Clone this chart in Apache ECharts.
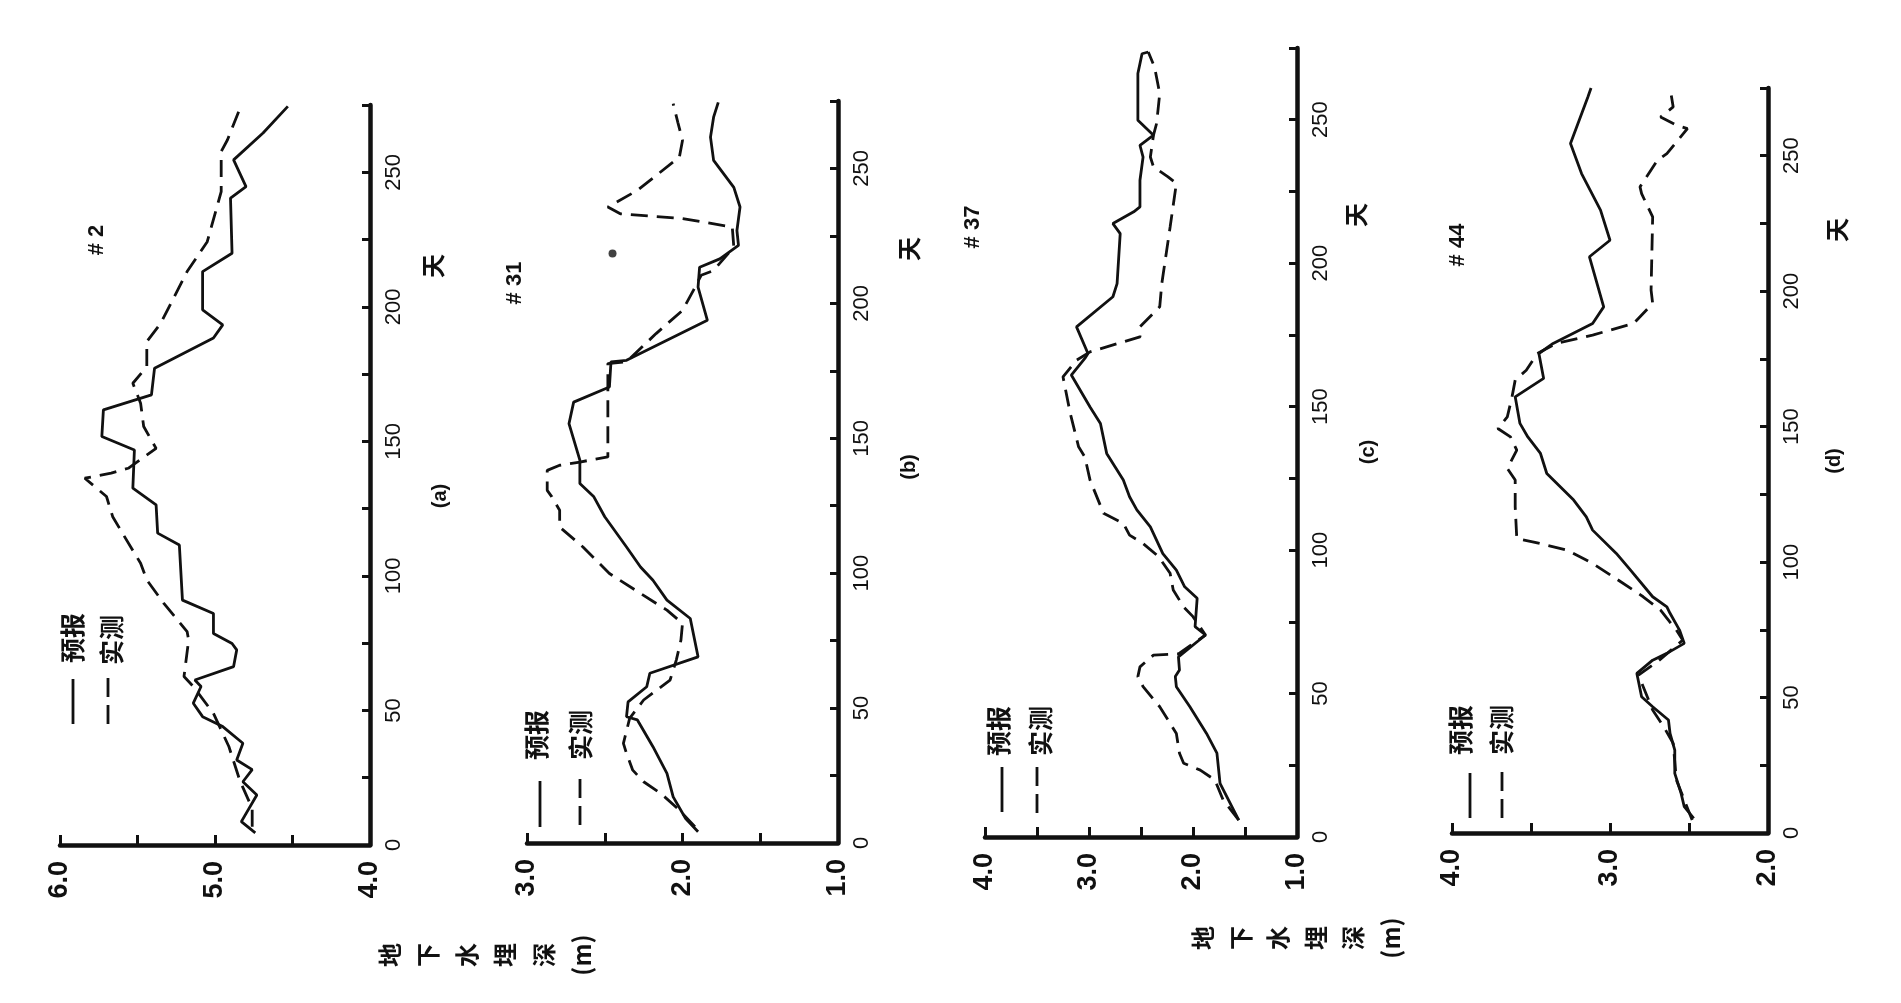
<!DOCTYPE html>
<html>
<head>
<meta charset="utf-8">
<title>地下水埋深 预报与实测</title>
<script src="https://cdn.jsdelivr.net/npm/echarts@6/dist/echarts.min.js"></script>
<style>
  html, body { margin: 0; padding: 0; background: #ffffff; }
  #chart { width: 1901px; height: 1003px; }
</style>
</head>
<body>
<div id="chart"></div>
<script>
// ---- Well #2 (a): groundwater depth (m) against day ----
const well2PredDay   = [4.5, 8.7, 18.6, 23.5, 28, 31.6, 37.8, 44, 47.7, 52.7, 58.9, 61.3, 66.3, 72.5, 74.9, 78.6, 86, 91, 111.5, 115.9, 126.4, 132.6, 146.8, 151.8, 161.7, 167.3, 177.2, 188.4, 193.3, 198.9, 213.1, 219.9, 240.4, 244.7, 254.6, 264.6, 274.5];
const well2PredDepth = [4.74, 4.83, 4.73, 4.82, 4.76, 4.86, 4.82, 4.95, 5.08, 5.14, 5.09, 5.13, 4.88, 4.86, 4.89, 5.01, 5.01, 5.21, 5.23, 5.37, 5.38, 5.53, 5.52, 5.73, 5.72, 5.41, 5.39, 5.01, 4.95, 5.08, 5.08, 4.89, 4.90, 4.80, 4.88, 4.69, 4.53];
const well2ObsDay    = [6.8, 13.6, 24, 36.5, 48.9, 58.9, 62.6, 76.2, 79.3, 89.8, 98.5, 104.7, 115.2, 122, 129.5, 136.3, 138.2, 140, 147.4, 155.5, 164.2, 171.6, 177.8, 187.1, 193.9, 213.1, 224.2, 242.8, 257.7, 262, 275];
const well2ObsDepth  = [4.76, 4.76, 4.84, 4.91, 5.01, 5.14, 5.20, 5.17, 5.18, 5.33, 5.44, 5.48, 5.59, 5.66, 5.70, 5.84, 5.67, 5.56, 5.38, 5.46, 5.48, 5.53, 5.44, 5.44, 5.35, 5.18, 5.05, 4.96, 4.96, 4.92, 4.83];

// ---- Well #31 (b) ----
const well31PredDay   = [4.2, 9.1, 17.1, 25.8, 35.7, 45.6, 46.8, 52.3, 57.9, 62.9, 69, 83.2, 90, 97.4, 102.3, 109.7, 120.9, 128.3, 133.2, 141.9, 155.4, 163.4, 169, 178.3, 178.9, 193.7, 206, 213.4, 216.5, 221.5, 227, 235.7, 243, 253, 261.6, 269, 274.5];
const well31PredDepth = [1.90, 1.98, 2.06, 2.10, 2.19, 2.29, 2.36, 2.35, 2.23, 2.21, 1.90, 1.95, 2.10, 2.19, 2.27, 2.36, 2.50, 2.57, 2.66, 2.66, 2.73, 2.70, 2.47, 2.46, 2.36, 1.84, 1.90, 1.89, 1.76, 1.64, 1.65, 1.63, 1.67, 1.80, 1.82, 1.80, 1.77];
const well31ObsDay    = [6, 12.2, 18.4, 22.7, 27, 33.2, 36.9, 46.2, 53, 60.4, 67.8, 75.2, 81.4, 86.3, 92.5, 99.9, 109.7, 117.1, 123.3, 128.3, 130.7, 138.1, 140, 141.2, 143.1, 177.7, 178.3, 188.8, 197.4, 204.8, 210.4, 212.2, 220.9, 228.3, 231.4, 233.2, 235.7, 241.9, 254.2, 260.4, 267.1, 274];
const well31ObsDepth  = [1.92, 2.02, 2.14, 2.25, 2.32, 2.36, 2.38, 2.34, 2.25, 2.08, 2.04, 2.01, 2.00, 2.10, 2.27, 2.47, 2.64, 2.79, 2.79, 2.84, 2.87, 2.87, 2.79, 2.66, 2.48, 2.48, 2.36, 2.17, 2.00, 1.93, 1.88, 1.80, 1.67, 1.68, 2.00, 2.40, 2.48, 2.29, 2.02, 2.00, 2.03, 2.06];
const well31DotDay    = [218.5];
const well31DotDepth  = [2.45];

// ---- Well #37 (c) ----
const well37PredDay   = [5.9, 18.7, 29.2, 36.1, 45.4, 52.4, 55.9, 58.2, 62.8, 70.4, 73.3, 83.2, 87.2, 93, 98.8, 108.1, 114, 118.6, 124.4, 133.7, 144.1, 149.9, 161, 166.8, 168.5, 177.8, 188.3, 192.9, 210.3, 213.8, 217.9, 219.6, 228.9, 237, 241.1, 244.6, 249.8, 266.1, 273, 273.6];
const well37PredDepth = [1.56, 1.74, 1.77, 1.87, 2.03, 2.16, 2.17, 2.13, 2.14, 1.88, 1.98, 1.96, 2.08, 2.16, 2.29, 2.41, 2.54, 2.61, 2.67, 2.83, 2.89, 2.99, 3.17, 3.04, 3.01, 3.12, 2.77, 2.73, 2.70, 2.77, 2.57, 2.51, 2.51, 2.48, 2.51, 2.38, 2.53, 2.53, 2.49, 2.43];
const well37ObsDay    = [5.9, 12.9, 19.9, 23.3, 25.7, 29.2, 36.1, 40.8, 45.4, 52.4, 55.9, 59.3, 63.4, 63.8, 70.4, 76.8, 80.2, 86.1, 91.9, 97.7, 102.3, 105.2, 109.3, 112.8, 124.4, 132.5, 136, 147.6, 160.4, 166.2, 169.1, 174.3, 177.8, 184.8, 192.9, 212.6, 227.8, 230.1, 233.6, 237, 244.6, 248.7, 259.1, 268.4, 273.6];
const well37ObsDepth  = [1.56, 1.71, 1.79, 1.93, 2.09, 2.13, 2.16, 2.24, 2.32, 2.48, 2.53, 2.51, 2.38, 2.14, 1.88, 2.00, 2.09, 2.19, 2.22, 2.33, 2.48, 2.61, 2.67, 2.86, 2.99, 3.04, 3.10, 3.18, 3.25, 3.12, 2.99, 2.51, 2.51, 2.32, 2.30, 2.22, 2.16, 2.24, 2.38, 2.41, 2.38, 2.35, 2.32, 2.37, 2.43];

// ---- Well #44 (d) ----
const well44PredDay   = [5.4, 9.7, 14.6, 22, 30.6, 36.8, 41.7, 46.6, 50.3, 58.9, 63.8, 66.3, 70, 74.9, 81.1, 83.5, 87.2, 97, 103.2, 111.8, 116.7, 122.9, 132.7, 140.1, 146.2, 151.2, 161, 167.8, 177, 180.7, 188.1, 194.2, 212.7, 218.8, 229.9, 243.4, 254.5, 271.7, 275];
const well44PredDepth = [2.47, 2.53, 2.55, 2.59, 2.59, 2.62, 2.63, 2.73, 2.80, 2.83, 2.73, 2.64, 2.53, 2.56, 2.62, 2.64, 2.73, 2.87, 2.96, 3.11, 3.15, 3.23, 3.40, 3.44, 3.52, 3.57, 3.60, 3.42, 3.45, 3.36, 3.11, 3.04, 3.13, 3.00, 3.06, 3.18, 3.25, 3.14, 3.12];
const well44ObsDay    = [4.8, 19.6, 33.1, 39.2, 45.4, 58.3, 63.2, 71.2, 74.9, 82.3, 87.2, 94.6, 99.5, 104.4, 107.5, 108.7, 120.4, 130.3, 134.6, 141.3, 146.2, 149.3, 153.6, 161, 167.2, 170.8, 177, 180.7, 183.8, 188.1, 195.5, 200.4, 227.4, 236, 238.5, 248.3, 250.8, 260, 261.3, 264.3, 268, 275];
const well44ObsDepth  = [2.48, 2.58, 2.60, 2.66, 2.73, 2.82, 2.70, 2.54, 2.58, 2.68, 2.79, 2.98, 3.11, 3.27, 3.49, 3.59, 3.60, 3.60, 3.65, 3.59, 3.63, 3.71, 3.65, 3.62, 3.60, 3.53, 3.46, 3.34, 3.11, 2.85, 2.73, 2.74, 2.73, 2.80, 2.81, 2.70, 2.64, 2.51, 2.58, 2.68, 2.60, 2.62];

// axis ranges
const depthRanges = [[4.0, 6.0], [1.0, 3.0], [1.0, 4.0], [2.0, 4.0]];
const dayMax = 275;
const dayInterval = 25;
const dayLabelStep = 50;
const depthTickInterval = 0.5;

const wellTitles = ['# 2', '# 31', '# 37', '# 44'];
const panelTags  = ['(a)', '(b)', '(c)', '(d)'];
const legendNames = ['预报', '实测'];
const dayName = '天';
const depthName = ['地', '下', '水', '埋', '深', '(m)'];

// ---------------------------------------------------------------
const INK = '#111111';
const LATIN = '"Liberation Sans", Arial, sans-serif';
const CJK = '"Noto Sans CJK SC", "Liberation Sans", sans-serif';

const pairs = (depth, day) => day.map((d, i) => [depth[i], d]);

const wells = [
  { pred: pairs(well2PredDepth, well2PredDay),   obs: pairs(well2ObsDepth, well2ObsDay) },
  { pred: pairs(well31PredDepth, well31PredDay), obs: pairs(well31ObsDepth, well31ObsDay), dot: pairs(well31DotDepth, well31DotDay) },
  { pred: pairs(well37PredDepth, well37PredDay), obs: pairs(well37ObsDepth, well37ObsDay) },
  { pred: pairs(well44PredDepth, well44PredDay), obs: pairs(well44ObsDepth, well44ObsDay) }
];

// plot frames, left to right
const frames = [
  { left: 60,   top: 105, width: 310, height: 740 },
  { left: 527,  top: 101, width: 311, height: 742 },
  { left: 985,  top: 48,  width: 312, height: 789 },
  { left: 1452, top: 88,  width: 316, height: 745 }
];

const grid = [], xAxis = [], yAxis = [], series = [];

frames.forEach((f, i) => {
  grid.push({ left: f.left, top: f.top, width: f.width, height: f.height, containLabel: false });

  // groundwater depth runs horizontally, larger depth on the left
  xAxis.push({
    gridIndex: i, type: 'value', inverse: true,
    min: depthRanges[i][0], max: depthRanges[i][1], interval: depthTickInterval,
    position: 'bottom',
    axisLine: { onZero: false, lineStyle: { color: INK, width: 4.5 } },
    axisTick: { inside: true, length: 10, lineStyle: { color: INK, width: 3 } },
    axisLabel: {
      rotate: 90, margin: 16, color: INK, fontSize: 27, fontWeight: 'bold', fontFamily: LATIN,
      formatter: v => Math.abs(v - Math.round(v)) < 1e-6 ? v.toFixed(1) : ''
    },
    splitLine: { show: false }
  });

  // day counter runs vertically on the right edge
  yAxis.push({
    gridIndex: i, type: 'value', min: 0, max: dayMax, interval: dayInterval,
    position: 'right',
    axisLine: { onZero: false, lineStyle: { color: INK, width: 4.5 } },
    axisTick: { inside: true, length: 8, lineStyle: { color: INK, width: 3 } },
    axisLabel: {
      rotate: 90, margin: 13, color: INK, fontSize: 22, fontFamily: LATIN,
      formatter: v => (v % dayLabelStep === 0 && v <= 250) ? String(v) : ''
    },
    splitLine: { show: false }
  });

  series.push({
    name: legendNames[0], type: 'line', xAxisIndex: i, yAxisIndex: i,
    data: wells[i].pred, symbol: 'none', smooth: false,
    lineStyle: { color: INK, width: 2.8 }
  });
  series.push({
    name: legendNames[1], type: 'line', xAxisIndex: i, yAxisIndex: i,
    data: wells[i].obs, symbol: 'none', smooth: false,
    lineStyle: { color: INK, width: 2.8, type: [17, 9] }
  });
  if (wells[i].dot) {
    series.push({
      type: 'scatter', xAxisIndex: i, yAxisIndex: i, data: wells[i].dot,
      symbol: 'circle', symbolSize: 8, itemStyle: { color: INK }
    });
  }
});

// rotated text helper: reads bottom to top
function vText(x, y, text, size, family, weight, lineHeight) {
  return {
    type: 'text', x: x, y: y, rotation: Math.PI / 2, silent: true,
    style: {
      text: text, fill: INK,
      font: (weight || 'normal') + ' ' + size + 'px ' + family,
      align: 'center', verticalAlign: 'middle',
      textAlign: 'center', textVerticalAlign: 'middle',
      lineHeight: lineHeight || size
    }
  };
}
function vLine(x, y1, y2, dashed) {
  return {
    type: 'line', silent: true,
    shape: { x1: x, y1: y1, x2: x, y2: y2 },
    style: { stroke: INK, lineWidth: 2.8, lineDash: dashed ? [19, 8] : null }
  };
}

const graphics = [];

// well numbers
const titlePos = [[97, 240], [515, 283], [973, 227], [1458, 245]];
titlePos.forEach((p, i) => graphics.push(vText(p[0], p[1], wellTitles[i], 22, LATIN, 'bold')));

// day axis names and panel tags
const dayNamePos = [[433, 266], [909, 249], [1356, 215], [1837, 230]];
dayNamePos.forEach(p => graphics.push(vText(p[0], p[1], dayName, 24, CJK, 'bold')));
const tagPos = [[440, 496], [909, 467], [1368, 452], [1834, 461]];
tagPos.forEach((p, i) => graphics.push(vText(p[0], p[1], panelTags[i], 20, LATIN, 'bold')));

// legends: line sample below, name above
const legendPos = [
  { solid: [73, 679, 724],   solidText: [72, 638],   dash: [108, 678, 724],  dashText: [111, 640] },
  { solid: [540, 781, 827],  solidText: [536, 735],  dash: [580, 779, 825],  dashText: [580, 735] },
  { solid: [1002, 767, 812], solidText: [998, 731],  dash: [1037, 767, 813], dashText: [1040, 731] },
  { solid: [1470, 773, 818], solidText: [1460, 730], dash: [1502, 772, 818], dashText: [1501, 730] }
];
legendPos.forEach(l => {
  graphics.push(vLine(l.solid[0], l.solid[1], l.solid[2], false));
  graphics.push(vText(l.solidText[0], l.solidText[1], legendNames[0], 25, CJK, 'bold'));
  graphics.push(vLine(l.dash[0], l.dash[1], l.dash[2], true));
  graphics.push(vText(l.dashText[0], l.dashText[1], legendNames[1], 25, CJK, 'bold'));
});

// depth axis titles, characters stacked upright in the drawing's own frame
const depthTitle = depthName.join('\n');
graphics.push(vText(486, 955, depthTitle, 24, CJK, 'bold', 38.5));
graphics.push(vText(1297, 938, depthTitle, 24, CJK, 'bold', 37.5));

const chart = echarts.init(document.getElementById('chart'), null, { renderer: 'canvas' });
chart.setOption({
  backgroundColor: '#ffffff',
  animation: false,
  grid: grid,
  xAxis: xAxis,
  yAxis: yAxis,
  series: series,
  graphic: { elements: graphics }
});
</script>
</body>
</html>
